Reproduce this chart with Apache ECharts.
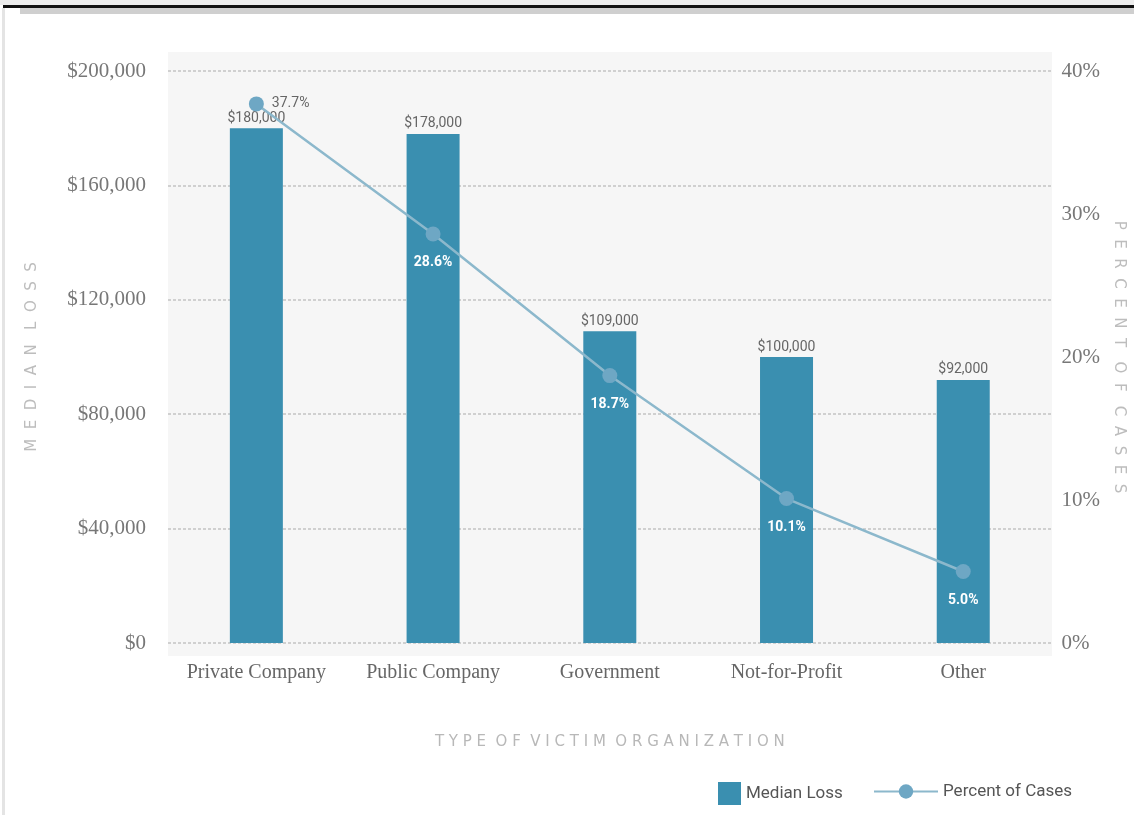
<!DOCTYPE html>
<html>
<head>
<meta charset="utf-8">
<script src="https://cdn.jsdelivr.net/npm/echarts@6/dist/echarts.min.js"></script>
<style>
  html, body { margin: 0; padding: 0; background: #ffffff; }
  #chart { width: 1134px; height: 815px; }
</style>
</head>
<body>
<div id="chart"></div>
<script>
// Victim organization types and their figures
const categories = ['Private Company', 'Public Company', 'Government', 'Not-for-Profit', 'Other'];
const medianLoss = [180000, 178000, 109000, 100000, 92000];
const percentOfCases = [37.7, 28.6, 18.7, 10.1, 5.0];

const SERIF = "'Liberation Serif', 'DejaVu Serif', serif";
const NARROW = "'Roboto', 'Liberation Sans', sans-serif";
// wide tracking for the axis titles
const SPACED = (s, gap) => s.split(' ').map(w => w.split('').join(gap)).join(gap + ' ');

const BAR = '#3a8fb0';
const LINE = '#8cb8cc';
const DOT = '#6ea7c4';

const chart = echarts.init(document.getElementById('chart'));

chart.setOption({
  animation: false,
  backgroundColor: '#ffffff',
  graphic: [
    { type: 'rect', shape: { x: 168, y: 52, width: 884, height: 604 }, style: { fill: '#f6f6f6' }, z: -10 },
    { type: 'rect', shape: { x: 0, y: 0, width: 1134, height: 5 }, style: { fill: '#ececec' }, z: 10 },
    { type: 'rect', shape: { x: 3, y: 5, width: 1131, height: 3 }, style: { fill: '#111111' }, z: 10 },
    { type: 'rect', shape: { x: 20, y: 8, width: 1114, height: 6 }, style: { fill: '#cfcfcf' }, z: 10 },
    { type: 'rect', shape: { x: 2, y: 8, width: 3, height: 807 }, style: { fill: '#e4e4e4' }, z: 10 }
  ],
  grid: { left: 168, right: 76, top: 71, bottom: 172 },
  legend: [
    {
      data: ['Median Loss'],
      left: 713, top: 777,
      icon: 'rect',
      itemWidth: 23, itemHeight: 23, itemGap: 10,
      textStyle: { color: '#555', fontSize: 17, fontFamily: NARROW }
    },
    {
      data: ['Percent of Cases'],
      left: 868, top: 778,
      itemWidth: 64, itemHeight: 18,
      textStyle: { color: '#555', fontSize: 17, fontFamily: NARROW }
    }
  ],
  xAxis: {
    type: 'category',
    data: categories,
    axisLine: { show: false },
    axisTick: { show: false },
    axisLabel: { interval: 0, color: '#666', fontSize: 20, fontFamily: SERIF, margin: 20 },
    name: SPACED('TYPE OF VICTIM ORGANIZATION', ' '),
    nameLocation: 'middle',
    nameGap: 92,
    nameTextStyle: { color: '#b8b8b8', fontSize: 15, fontFamily: "'DejaVu Sans', sans-serif" }
  },
  yAxis: [
    {
      type: 'value',
      min: 0, max: 200000, interval: 40000,
      axisLine: { show: false },
      axisTick: { show: false },
      axisLabel: {
        color: '#777', fontSize: 21, fontFamily: SERIF, margin: 22,
        formatter: v => '$' + v.toLocaleString('en-US')
      },
      splitLine: { lineStyle: { color: '#c4c4c4', type: [3, 2], width: 1.5 } },
      name: SPACED('MEDIAN LOSS', '  '),
      nameLocation: 'middle',
      nameGap: 128,
      nameTextStyle: { color: '#bdbdbd', fontSize: 15, fontFamily: "'DejaVu Sans', sans-serif" }
    },
    {
      type: 'value',
      min: 0, max: 40, interval: 10,
      axisLine: { show: false },
      axisTick: { show: false },
      splitLine: { show: false },
      axisLabel: { color: '#777', fontSize: 21, fontFamily: SERIF, margin: 10, formatter: '{value}%' },
      name: SPACED('PERCENT OF CASES', '  '),
      nameLocation: 'middle',
      nameRotate: -90,
      nameGap: 58,
      nameTextStyle: { color: '#bdbdbd', fontSize: 15, fontFamily: "'DejaVu Sans', sans-serif" }
    }
  ],
  series: [
    {
      name: 'Median Loss',
      type: 'bar',
      data: medianLoss,
      barWidth: 53,
      itemStyle: { color: BAR },
      label: {
        show: true,
        position: 'top',
        distance: 3,
        color: '#666',
        fontSize: 14,
        fontFamily: NARROW,
        formatter: p => '$' + p.value.toLocaleString('en-US')
      }
    },
    {
      name: 'Percent of Cases',
      type: 'line',
      yAxisIndex: 1,
      data: percentOfCases.map((v, i) => i === 0
        ? { value: v, label: { position: 'right', color: '#666', fontWeight: 'normal', distance: 8 } }
        : v),
      symbol: 'circle',
      symbolSize: 15,
      lineStyle: { color: LINE, width: 2.5 },
      itemStyle: { color: DOT },
      z: 5,
      label: {
        show: true,
        position: 'bottom',
        distance: 14,
        color: '#ffffff',
        fontSize: 14,
        fontWeight: 'bold',
        fontFamily: NARROW,
        formatter: p => p.value.toFixed(1) + '%'
      }
    }
  ]
});
</script>
</body>
</html>
